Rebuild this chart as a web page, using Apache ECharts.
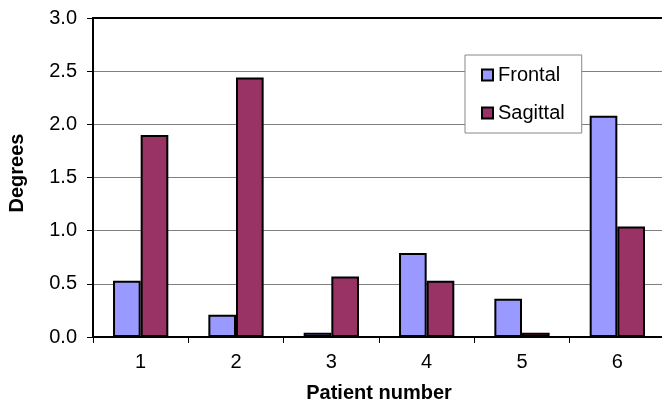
<!DOCTYPE html>
<html><head><meta charset="utf-8">
<script src="https://cdn.jsdelivr.net/npm/echarts@6/dist/echarts.min.js"></script>
<style>html,body{margin:0;padding:0;background:#fff}#c{width:662px;height:405px}</style>
</head><body><div id="c"></div>
<script>
const categories = ['1','2','3','4','5','6'];
const frontal = [0.53, 0.21, 0.04, 0.79, 0.36, 2.08];
const sagittal = [1.90, 2.44, 0.57, 0.53, 0.04, 1.04];
const seriesNames = ['Frontal','Sagittal'];
const font = 'Liberation Sans, Arial, sans-serif';
const chart = echarts.init(document.getElementById('c'), null, {renderer:'canvas'});
chart.setOption({
  animation:false,
  backgroundColor:'#fff',
  textStyle:{fontFamily:font},
  grid:{left:93, top:18, right:-3, bottom:68, containLabel:false, outerBoundsMode:'none'},
  legend:{
    data:seriesNames, orient:'vertical', left:465, top:55,
    padding:[10,17,10,16], itemGap:18, itemWidth:11, itemHeight:11, icon:'rect',
    borderColor:'#888', borderWidth:1, backgroundColor:'#fff',
    textStyle:{fontSize:20, color:'#000', fontFamily:font}
  },
  xAxis:[{
    type:'category', data:categories,
    name:'Patient number', nameLocation:'middle', nameGap:46,
    nameTextStyle:{fontSize:20, fontWeight:'bold', color:'#000', fontFamily:font},
    axisLine:{lineStyle:{color:'#000', width:2}},
    axisTick:{show:true, length:6, lineStyle:{color:'#000'}},
    axisLabel:{fontSize:20, color:'#000', margin:15, fontFamily:font},
    splitLine:{show:false}
  },{
    type:'category', data:categories, position:'top',
    axisLine:{show:true, lineStyle:{color:'#000', width:2}},
    axisTick:{show:false}, axisLabel:{show:false}
  }],
  yAxis:{
    type:'value', min:0, max:3, interval:0.5,
    name:'Degrees', nameLocation:'middle', nameGap:66, nameRotate:90,
    nameTextStyle:{fontSize:20, fontWeight:'bold', color:'#000', fontFamily:font, padding:[0,0,0,9]},
    axisLine:{show:true, lineStyle:{color:'#000', width:2}},
    axisTick:{show:true, length:6, lineStyle:{color:'#000'}},
    axisLabel:{fontSize:20, color:'#000', margin:16, fontFamily:font, formatter:v=>v.toFixed(1)},
    splitLine:{show:true, lineStyle:{color:'#808080', width:1}}
  },
  series:[
    {name:seriesNames[0], type:'bar', data:frontal, barGap:'0%', barCategoryGap:'42%',
     itemStyle:{color:'#9999FF', borderColor:'#000', borderWidth:2}},
    {name:seriesNames[1], type:'bar', data:sagittal, barGap:'0%', barCategoryGap:'42%',
     itemStyle:{color:'#993366', borderColor:'#000', borderWidth:2}}
  ]
});
</script></body></html>
